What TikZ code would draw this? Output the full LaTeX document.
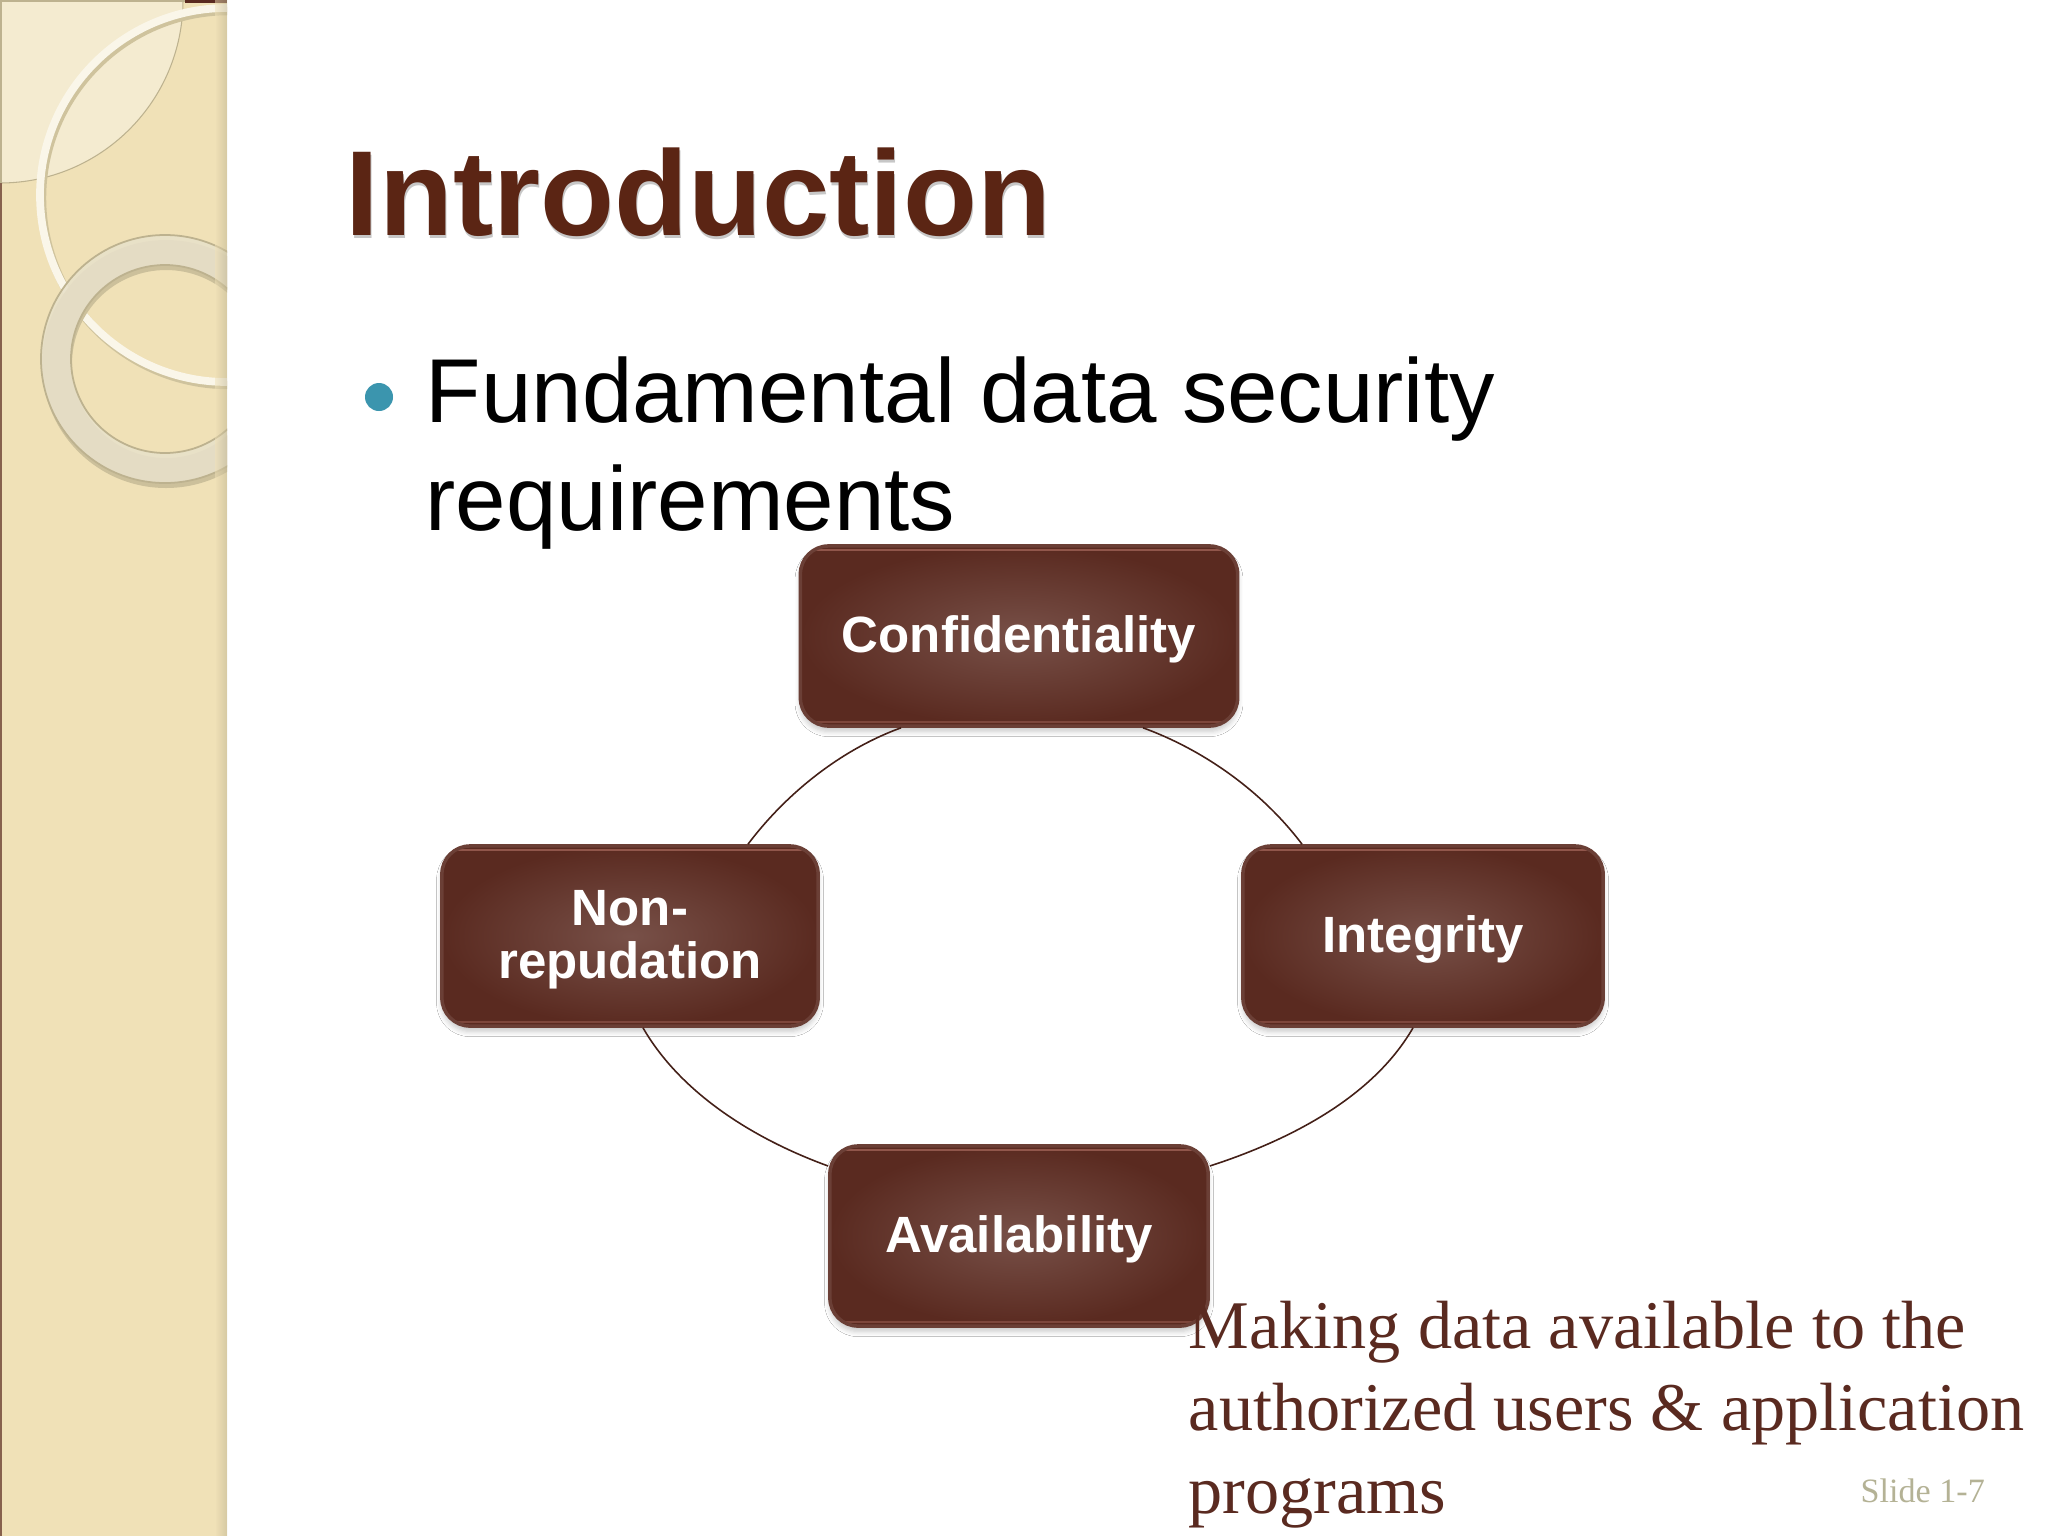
\documentclass[tikz,border=0pt]{standalone}
\usepackage{fontspec}
\setmainfont{Liberation Serif}
\setsansfont{Liberation Sans}
\usetikzlibrary{calc,shadows.blur}
\definecolor{deckbrown}{HTML}{5A2A20}
\definecolor{decktitle}{HTML}{5B2514}
\definecolor{deckglow}{HTML}{A86A5E}
\definecolor{deckcream}{HTML}{F0E1B7}
\definecolor{decklight}{HTML}{F4EBD0}
\definecolor{deckring}{HTML}{E8E1CA}
\definecolor{deckline}{HTML}{BDB28F}
\definecolor{deckteal}{HTML}{3B95AE}
\definecolor{slidegray}{HTML}{B4B295}
\tikzset{
  goalbox/.style={draw=deckbrown!90!white, line width=1pt, rounded corners=8pt,
    inner color=deckbrown!82!white, outer color=deckbrown,
    text=white, font=\sffamily\bfseries\fontsize{14.5}{15.2}\selectfont,
    align=center, text depth=1pt,
    blur shadow={shadow xshift=0pt, shadow yshift=-1.5pt, shadow blur radius=1.5pt, shadow blur steps=5, shadow opacity=22},
    path picture={
      \draw[deckglow, line width=.7pt, draw opacity=.7]
        ($(path picture bounding box.north west)+(16,4)$) -- ($(path picture bounding box.north east)+(-16,4)$);
      \draw[deckglow, line width=.7pt, draw opacity=.45]
        ($(path picture bounding box.south west)+(16,-4)$) -- ($(path picture bounding box.south east)+(-16,-4)$);
    }},
  goalarc/.style={draw=deckbrown!75!black, line width=.45pt, looseness=.85},
  bodytext/.style={font=\sffamily\fontsize{25.8}{30.7}\selectfont, anchor=base west, inner sep=0pt, align=left},
  headtext/.style={font=\sffamily\bfseries\fontsize{34.4}{40}\selectfont, anchor=base west, inner sep=0pt},
}
\begin{document}
\begin{tikzpicture}[x=0.01cm, y=-0.01cm]
  \useasboundingbox (0,0) rectangle (2048,1536);
  % side band
  \fill[white] (0,0) rectangle (2048,1536);
  \begin{scope}
    \clip (0,0) rectangle (227,1536);
    \fill[deckcream] (0,0) rectangle (227,1536);
    \fill[decklight] (0,0) circle (183);
    \draw[deckline, line width=.3pt] (0,0) circle (183);
    \fill[deckbrown!70!deckcream] (0,183) rectangle (2,1536);
    \fill[deckline] (0,0) rectangle (2,183);
    \fill[deckline] (0,0) rectangle (185,2);
    \fill[deckbrown] (185,0) rectangle (227,3);
    \draw[deckline!65!deckcream, line width=2.4pt] (229,198) circle (187);
    \draw[white!70!deckcream, line width=2.2pt] (227,195) circle (187);
    \fill[deckline!70!deckcream, even odd rule] (166,364) circle (124) (166,364) circle (94);
    \fill[deckring, even odd rule, fill opacity=.88] (165,359) circle (124) (165,359) circle (94);
    \draw[deckline, line width=.5pt] (165,359) circle (124) (165,359) circle (94);
    \shade[left color=deckcream, right color=deckline, opacity=.5] (215,0) rectangle (227,1536);
  \end{scope}
  % heading
  \node [headtext, text=black, opacity=.22] at (346,238) {Introduction};
  \node (headline) [headtext, text=decktitle] at (345,235) {Introduction};
  \fill[deckteal] (379,397) circle (14);
  \node (bodyline) [bodytext] at (425,530) {Fundamental data security\\[0pt]requirements};
  % cycle
  \node (confidentiality) [goalbox, minimum width=4.37cm, minimum height=1.8cm] at (1019,636) {Confidentiality};
  \node (integrity) [goalbox, minimum width=3.6cm, minimum height=1.8cm] at (1423,936) {Integrity};
  \node (availability) [goalbox, minimum width=3.78cm, minimum height=1.8cm] at (1019,1236) {Availability};
  \node (nonrepudiation) [goalbox, minimum width=3.76cm, minimum height=1.8cm] at (630,936) {Non-\\repudation};
  \draw[goalarc] ($(confidentiality.south)+(124,0)$) to[out=-20, in=127] ($(integrity.north)+(-121,0)$);
  \draw[goalarc] ($(integrity.south)+(-10,0)$) to[out=-120, in=18] ($(availability.east)+(0,-70)$);
  \draw[goalarc] ($(availability.west)+(0,-70)$) to[out=160, in=-60] ($(nonrepudiation.south)+(13,0)$);
  \draw[goalarc] ($(nonrepudiation.north)+(118,0)$) to[out=53, in=-160] ($(confidentiality.south)+(-118,0)$);
  % note and slide number
  \node (availnote) [font=\fontsize{19.4}{23.4}\selectfont, text=deckbrown, anchor=base west, inner sep=0pt, align=left] at (1188,1513) {Making data available to the\\authorized users \& application\\programs};
  \node (slidenum) [font=\fontsize{9.7}{11}\selectfont, text=slidegray, anchor=base west, inner sep=0pt] at (1860,1502) {Slide 1-7};
\end{tikzpicture}
\end{document}
